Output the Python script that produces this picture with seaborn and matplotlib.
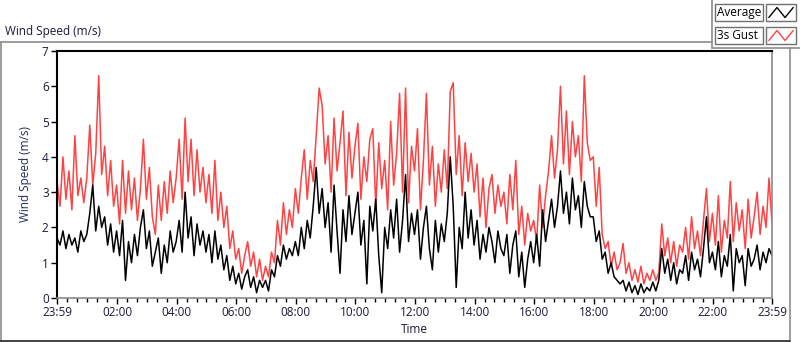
import numpy as np
import pandas as pd
import seaborn as sns
import matplotlib.pyplot as plt
from matplotlib.lines import Line2D
from matplotlib.patches import Rectangle

# one sample every 6 minutes, starting 23:59
gust = [
    3.3, 2.6, 4.0, 2.8, 3.6, 2.5, 4.6, 2.9, 3.4, 2.7,
    3.4, 4.9, 3.2, 4.1, 6.3, 3.5, 4.3, 2.9, 3.9, 2.6,
    3.2, 2.1, 3.9, 2.4, 3.6, 2.5, 3.4, 2.2, 3.1, 4.5,
    2.8, 3.7, 2.3, 1.8, 3.2, 2.2, 3.3, 2.4, 3.6, 2.7,
    3.4, 4.5, 2.8, 5.1, 3.3, 4.5, 2.9, 4.2, 3.0, 3.7,
    2.7, 3.5, 2.4, 3.9, 2.2, 3.0, 2.0, 2.6, 1.4, 1.9,
    1.1, 1.4, 0.7, 1.2, 1.6, 0.9, 1.3, 0.6, 1.1, 0.5,
    0.9, 0.6, 1.3, 1.0, 2.2, 1.5, 2.7, 1.8, 2.5, 2.0,
    3.1, 2.4, 3.4, 4.2, 2.8, 3.9, 3.3, 4.6, 5.95, 5.45,
    3.8, 4.6, 3.0, 5.1, 3.6, 4.4, 5.3, 2.9, 4.7, 3.4,
    4.3, 4.95, 2.8, 4.0, 3.3, 4.5, 4.8, 2.6, 4.4, 3.1,
    3.9, 2.5, 5.0, 3.2, 4.1, 5.8, 3.0, 5.95, 2.7, 4.3,
    3.6, 4.8, 2.5, 3.9, 5.8, 3.2, 4.3, 2.6, 3.8, 3.0,
    4.2, 3.1, 5.85, 6.1, 3.5, 4.6, 2.9, 4.4, 3.3, 4.1,
    3.0, 3.8, 2.3, 3.4, 2.0, 3.1, 3.5, 2.4, 3.2, 2.6,
    3.0, 2.1, 3.5, 2.5, 3.9, 1.8, 2.6, 1.5, 2.4, 1.9,
    2.2, 1.6, 3.2, 2.0, 2.9, 3.6, 4.6, 3.4, 4.2, 6.0,
    3.8, 5.3, 3.5, 5.0, 4.0, 4.6, 3.3, 6.3, 4.4, 3.9,
    4.0, 2.6, 3.7, 1.8, 1.4, 1.6, 0.9, 1.3, 0.8, 1.0,
    1.55, 0.7, 1.0, 0.5, 0.8, 0.45, 0.9, 0.4, 0.7, 0.5,
    0.8, 0.5, 0.7, 2.1, 1.2, 1.7, 1.0, 1.6, 0.9, 1.5,
    1.3, 2.0, 1.1, 2.3, 1.4, 1.9, 1.2, 2.2, 3.1, 1.6,
    2.4, 1.5, 2.9, 1.3, 2.2, 1.7, 3.3, 1.6, 2.7, 1.9,
    2.5, 1.4, 2.8, 1.7, 2.3, 3.0, 1.8, 2.6, 2.0, 3.4,
    2.1,
]
average = [
    1.7, 1.5, 1.9, 1.4, 1.8, 1.5, 1.7, 1.3, 1.9, 1.6,
    1.8, 2.4, 3.2, 1.9, 2.6, 2.0, 2.3, 1.5, 2.1, 1.3,
    1.9, 1.2, 2.2, 0.5, 1.6, 1.0, 1.8, 1.2, 2.0, 2.5,
    1.4, 1.9, 0.9, 1.3, 1.7, 0.7, 1.5, 1.0, 1.9, 1.3,
    1.6, 2.2, 1.3, 3.0, 1.7, 2.3, 1.2, 2.1, 1.5, 1.9,
    1.3, 1.8, 1.0, 1.9, 1.1, 1.5, 0.8, 1.2, 0.5, 0.9,
    0.4, 0.7, 0.25, 0.6, 0.8, 0.3, 0.6, 0.15, 0.5, 0.3,
    0.5, 0.2, 0.8, 0.6, 1.2, 0.9, 1.5, 1.1, 1.4, 1.2,
    1.6, 1.2, 2.0, 1.4, 2.2, 1.7, 2.6, 3.7, 2.4, 3.1,
    2.0, 2.7, 1.3, 3.2, 1.9, 0.7, 2.5, 1.6, 2.9, 1.8,
    2.4, 3.0, 1.5, 2.2, 0.4, 2.6, 1.9, 2.8, 1.2, 0.15,
    2.0, 1.4, 2.5, 1.7, 2.8, 1.3, 2.2, 3.5, 1.6, 2.4,
    1.8, 2.5, 1.1, 2.0, 2.6, 1.4, 0.8, 2.2, 1.3, 2.1,
    1.6, 2.4, 4.0, 2.6, 0.3, 2.0, 1.4, 3.0, 1.7, 2.5,
    1.5, 2.2, 1.1, 1.8, 1.3, 2.0, 1.6, 1.0, 1.9, 1.4,
    1.2, 1.8, 0.7, 1.5, 1.9, 0.6, 1.3, 0.3, 1.1, 1.6,
    1.0, 1.8, 0.9, 2.5, 1.6, 2.2, 2.8, 2.0, 2.6, 3.6,
    2.4, 3.0, 2.1, 3.4, 2.5, 2.9, 2.0, 3.3, 2.6, 2.3,
    2.3, 1.6, 1.9, 1.1, 1.3, 0.7, 1.0, 0.6, 0.5, 0.4,
    0.5, 0.2, 0.45, 0.15, 0.35, 0.1, 0.4, 0.15, 0.3, 0.2,
    0.45, 0.2, 0.5, 1.4, 0.7, 1.1, 0.5, 1.0, 0.4, 0.8,
    0.7, 1.2, 0.5, 1.3, 0.8, 1.1, 0.6, 1.4, 2.3, 1.0,
    1.3, 0.8, 1.6, 0.6, 1.2, 0.9, 1.8, 0.2, 1.4, 1.0,
    1.2, 0.35, 1.4, 0.9, 1.1, 1.5, 0.8, 1.3, 1.0, 1.4,
    1.2,
]
tick_labels = ['23:59', '02:00', '04:00', '06:00', '08:00', '10:00', '12:00',
               '14:00', '16:00', '18:00', '20:00', '22:00', '23:59']
tick_minutes = [0, 121, 241, 361, 481, 601, 721, 841, 961, 1081, 1201, 1321, 1440]

df = pd.DataFrame({'minutes': np.arange(len(gust)) * 6,
                   '3s Gust': gust, 'Average': average})

sns.set_style('white')
plt.rcParams['font.family'] = ['Open Sans', 'DejaVu Sans']

W, H = 800, 342
fig = plt.figure(figsize=(W / 100, H / 100), dpi=100)

def fx(x):
    return x / W

def fy(y):
    return 1 - y / H

L, R, T, B = 57, 772, 51, 298
ax = fig.add_axes([fx(L), fy(B), fx(R) - fx(L), fy(T) - fy(B)])

sns.lineplot(data=df, x='minutes', y='3s Gust', color='#ff4242', lw=1.1, ax=ax)
sns.lineplot(data=df, x='minutes', y='Average', color='black', lw=1.1, ax=ax)

ax.set_xlim(0, 1440)
ax.set_ylim(0, 7)
ax.set_yticks(range(8))
ax.set_xticks(tick_minutes)
ax.set_xticklabels(tick_labels)
ax.set_xticks(np.arange(21, 1440, 20), minor=True)
lab = '#1a1a3a'
ax.tick_params(axis='both', which='major', direction='out', length=4, width=1,
               labelsize=8.5, colors='black', labelcolor=lab, pad=2)
ax.tick_params(axis='x', which='minor', direction='out', length=3, width=1,
               colors='black', bottom=True)
ax.tick_params(axis='x', bottom=True)
ax.tick_params(axis='y', left=True)
ax.set_xlabel('Time', fontsize=8.5, color='#1a1a3a')
ax.set_ylabel('Wind Speed (m/s)', fontsize=8.5, color='#1f2a55')
ax.xaxis.set_label_coords(0.5, -0.10)
ax.yaxis.set_label_coords(-0.035, 0.5)
for s in ['top', 'left']:
    ax.spines[s].set_color('black')
    ax.spines[s].set_linewidth(1.5)
for s in ['bottom', 'right']:
    ax.spines[s].set_color('#8a8a8a')
    ax.spines[s].set_linewidth(1.2)

# outer frame of the chart panel
grey = '#8c8c8c'
fig.add_artist(Line2D([fx(0), fx(712)], [fy(42), fy(42)], color=grey, lw=1.2))
fig.add_artist(Line2D([fx(712), fx(712)], [fy(0), fy(48)], color=grey, lw=1.2))
fig.add_artist(Line2D([fx(712), fx(800)], [fy(48), fy(48)], color=grey, lw=1.2))
fig.add_artist(Line2D([fx(1), fx(1)], [fy(42), fy(341)], color=grey, lw=1.2))
fig.add_artist(Line2D([fx(790), fx(790)], [fy(48), fy(341)], color=grey, lw=1.2))
fig.add_artist(Line2D([fx(0), fx(790)], [fy(340.5), fy(340.5)], color='#222222', lw=1.2))

fig.text(fx(5), fy(32), 'Wind Speed (m/s)', fontsize=8.5, color='#1a1a3a',
         ha='left', va='center')

# legend boxes
for i, (name, col) in enumerate([('Average', 'black'), ('3s Gust', '#ff4242')]):
    y0 = 4 + i * 23
    fig.add_artist(Rectangle((fx(715), fy(y0 + 17)), fx(48), 17 / H,
                             transform=fig.transFigure, fill=False,
                             edgecolor='#707070', lw=1))
    fig.text(fx(717), fy(y0 + 8.5), name, fontsize=8.5, color='black',
             ha='left', va='center')
    fig.add_artist(Rectangle((fx(766), fy(y0 + 17)), fx(30), 17 / H,
                             transform=fig.transFigure, fill=False,
                             edgecolor='#707070', lw=1))
    icon = fig.add_axes([fx(768), fy(y0 + 15), fx(26), 13 / H])
    icon.plot([0, 1, 2, 3], [0, 1, 0, 1], color=col, lw=1)
    icon.set_xlim(-0.1, 3.1)
    icon.set_ylim(-0.15, 1.15)
    icon.axis('off')

fig.savefig('out.png', dpi=100)
